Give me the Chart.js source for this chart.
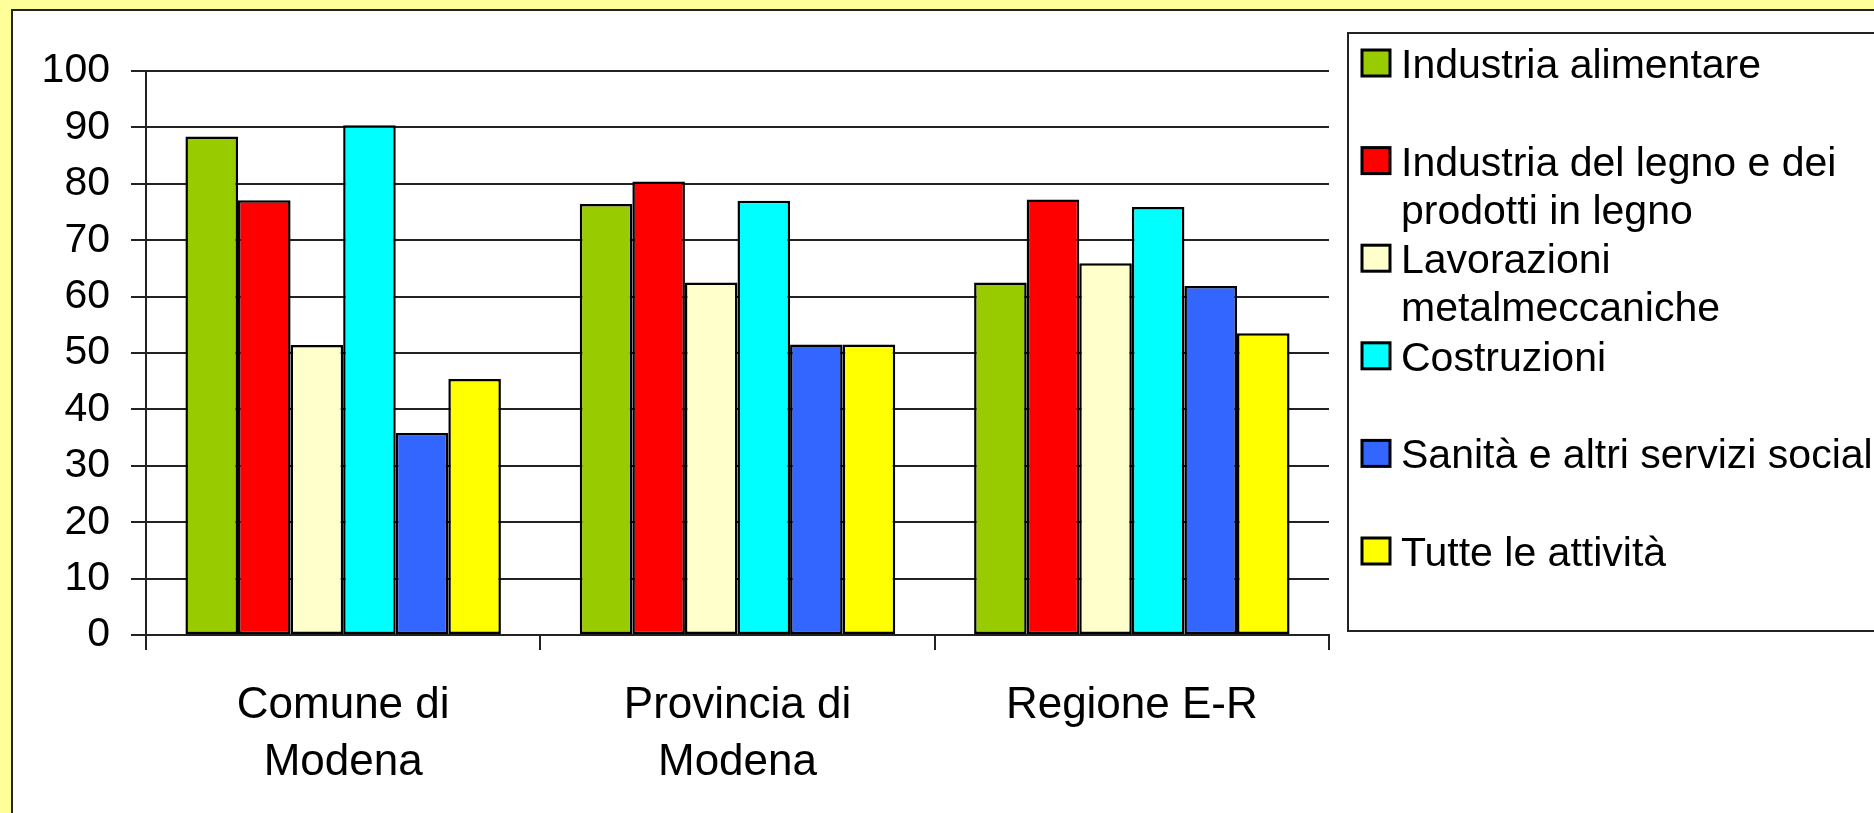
<!DOCTYPE html>
<html>
<head>
<meta charset="utf-8">
<script src="https://cdn.jsdelivr.net/npm/chart.js@4.4.1/dist/chart.umd.min.js"></script>
<style>
  html, body { margin: 0; padding: 0; width: 1874px; height: 813px; overflow: hidden; background: #ffff99; }
  #panel { position: absolute; left: 11px; top: 9px; width: 2000px; height: 1000px; background: #fff; border: 2px solid #222; }
  #chart { position: absolute; left: 0; top: 0; }
</style>
</head>
<body>
<div id="panel"></div>
<canvas id="chart" width="1874" height="813"></canvas>
<script>
// categories on the x axis (multi-line labels)
const categories = [['Comune di', 'Modena'], ['Provincia di', 'Modena'], ['Regione E-R']];

// series names, split into the lines shown in the legend
const seriesNames = [
    ['Industria alimentare'],
    ['Industria del legno e dei', 'prodotti in legno'],
    ['Lavorazioni', 'metalmeccaniche'],
    ['Costruzioni'],
    ['Sanità e altri servizi sociali'],
    ['Tutte le attività']
];
const seriesColors = ['#99cc00', '#ff0000', '#ffffcc', '#00ffff', '#3366ff', '#ffff00'];

// values per series: Comune, Provincia, Regione
const alimentare   = [88.4, 76.4, 62.5];
const legno        = [77.1, 80.4, 77.2];
const metalmecc    = [51.4, 62.5, 65.9];
const costruzioni  = [90.4, 77.0, 75.9];
const sanita       = [35.8, 51.5, 61.9];
const tutte        = [45.4, 51.5, 53.5];
const seriesValues = [alimentare, legno, metalmecc, costruzioni, sanita, tutte];

const yTicks = { min: 0, max: 100, step: 10 };

const FONT = '"Liberation Sans", Arial, sans-serif';

// ----- legend drawn at the right, Excel style -----
const sideLegend = {
    id: 'sideLegend',
    afterDraw(chart) {
        const ctx = chart.ctx;
        ctx.save();
        ctx.strokeStyle = '#222';
        ctx.lineWidth = 2;
        ctx.strokeRect(1348, 33, 700, 598);
        ctx.font = '41px ' + FONT;
        ctx.textBaseline = 'alphabetic';
        chart.data.datasets.forEach((ds, i) => {
            const cy = 63 + i * 97.6;
            ctx.fillStyle = ds.backgroundColor;
            ctx.fillRect(1362, cy - 13, 28, 26);
            ctx.strokeStyle = '#000';
            ctx.lineWidth = 3;
            ctx.strokeRect(1362, cy - 13, 28, 26);
            ctx.fillStyle = '#000';
            ds.legendLines.forEach((line, j) => {
                ctx.fillText(line, 1401, cy + 15 + j * 48);
            });
        });
        ctx.restore();
    }
};

const ctx = document.getElementById('chart').getContext('2d');
new Chart(ctx, {
    type: 'bar',
    data: {
        labels: categories,
        datasets: seriesValues.map((vals, i) => ({
            label: seriesNames[i].join(' '),
            legendLines: seriesNames[i],
            data: vals,
            backgroundColor: seriesColors[i],
            borderColor: '#000',
            borderWidth: 2.5,
            borderSkipped: false,
            categoryPercentage: 0.8,
            barPercentage: 1.0
        }))
    },
    options: {
        responsive: false,
        animation: false,
        layout: { padding: { left: 0, top: 71, right: 545, bottom: 0 } },
        plugins: {
            legend: { display: false },
            tooltip: { enabled: false }
        },
        scales: {
            x: {
                afterFit: s => { s.height = 178; },
                grid: { display: true, drawOnChartArea: false, drawTicks: true, tickLength: 15, color: '#222', lineWidth: 2 },
                border: { display: true, color: '#222', width: 2 },
                ticks: { color: '#000', font: { family: FONT, size: 44, lineHeight: 1.3 }, padding: 27, maxRotation: 0, autoSkip: false }
            },
            y: {
                min: yTicks.min,
                max: yTicks.max,
                afterFit: s => { s.width = 146; },
                grid: { color: '#222', lineWidth: 2, tickLength: 15 },
                border: { display: true, color: '#222', width: 2 },
                ticks: { stepSize: yTicks.step, color: '#000', font: { family: FONT, size: 41 }, padding: 21 }
            }
        }
    },
    plugins: [sideLegend]
});
</script>
</body>
</html>
